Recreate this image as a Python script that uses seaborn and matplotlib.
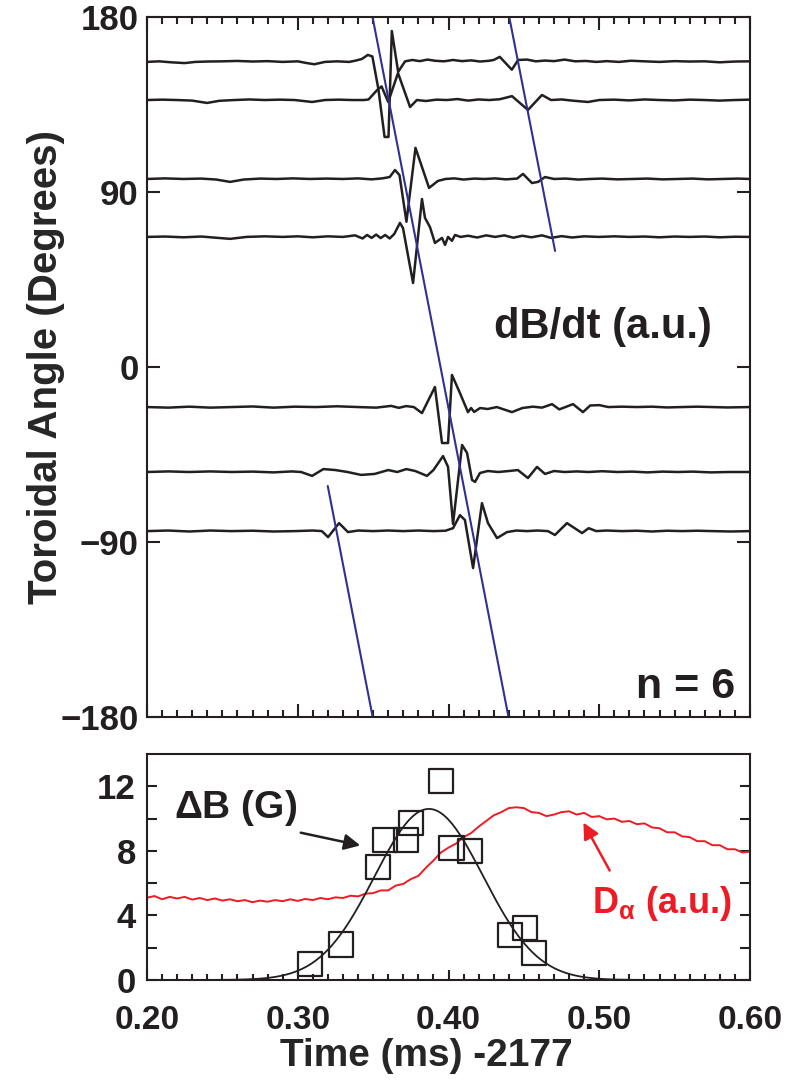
import numpy as np
import pandas as pd
import matplotlib
matplotlib.use("Agg")
import matplotlib.pyplot as plt
from matplotlib.ticker import MultipleLocator
import seaborn as sns

# ---------------------------------------------------------------- data
# toroidal positions of the magnetic probes (degrees)
probe_angle = [156.9, 137.3, 96.7, 66.9, -20.6, -54.0, -84.4]

# dB/dt signals: time (ms, offset from 2177 ms) and trace deflection (degrees)
probe1_t = [0.200, 0.208, 0.216, 0.225, 0.232, 0.240, 0.250, 0.260, 0.270, 0.280,
            0.290, 0.300, 0.306, 0.311, 0.318, 0.326, 0.334, 0.338, 0.3425, 0.3465,
            0.3495, 0.3535, 0.3576, 0.3602, 0.3624, 0.3666, 0.3712, 0.376, 0.381, 0.386,
            0.391, 0.397, 0.403, 0.409, 0.415, 0.421, 0.427, 0.430, 0.4340, 0.4420,
            0.4462, 0.452, 0.458, 0.464, 0.470, 0.477, 0.484, 0.491, 0.498, 0.505,
            0.513, 0.521, 0.530, 0.540, 0.550, 0.560, 0.570, 0.580, 0.590, 0.600]
probe1_v = [0.0, 0.3, -0.2, -0.6, 0.0, 0.2, 0.3, 0.5, 0.2, 0.4,
            0.0, 0.3, -0.6, -1.2, 0.0, 0.3, 0.0, 0.6, 1.5, 3.6,
            2.8, -14.0, -38.6, -38.6, 15.9, -5.1, 0.3, 1.0, 0.4, 1.2,
            0.6, 0.3, 1.0, 0.4, 0.8, 0.2, 0.6, 1.0, 2.6, -4.0,
            1.0, 1.2, 0.3, 0.7, 0.4, 1.2, 0.3, 0.5, 0.0, 0.4,
            0.0, 0.6, 0.3, 0.0, 0.4, 0.2, 0.3, -0.2, 0.2, 0.3]

probe2_t = [0.200, 0.210, 0.220, 0.230, 0.2398, 0.248, 0.258, 0.268, 0.278, 0.288,
            0.298, 0.3095, 0.318, 0.327, 0.336, 0.3440, 0.3470, 0.3526, 0.3556, 0.3600,
            0.3665, 0.3745, 0.3790, 0.385, 0.392, 0.399, 0.406, 0.413, 0.420, 0.427,
            0.434, 0.4421, 0.4527, 0.4620, 0.468, 0.475, 0.482, 0.4925, 0.500, 0.510,
            0.520, 0.530, 0.540, 0.550, 0.560, 0.570, 0.580, 0.590, 0.600]
probe2_v = [0.0, 0.2, 0.0, -0.3, -1.5, -0.4, 0.0, 0.3, 0.0, 0.2,
            0.0, -1.0, 0.0, 0.2, 0.0, 0.0, 0.3, 5.1, 7.0, -1.0,
            13.9, -3.6, 0.0, -0.5, 0.2, 0.0, 0.5, -0.3, 0.3, 0.0,
            0.4, 2.0, -5.1, 2.6, 0.0, 0.3, -0.3, -1.0, 0.0, 0.2,
            -0.2, 0.3, 0.0, -0.2, 0.2, 0.0, -0.3, 0.0, 0.2]

probe3_t = [0.200, 0.212, 0.224, 0.236, 0.246, 0.2551, 0.264, 0.275, 0.286, 0.297,
            0.308, 0.319, 0.330, 0.340, 0.349, 0.356, 0.3610, 0.3645, 0.3675, 0.3721,
            0.3781, 0.3871, 0.3930, 0.398, 0.404, 0.410, 0.417, 0.424, 0.431, 0.438,
            0.4455, 0.4494, 0.4554, 0.4594, 0.4640, 0.470, 0.478, 0.486, 0.494, 0.502,
            0.512, 0.522, 0.532, 0.542, 0.552, 0.562, 0.572, 0.582, 0.592, 0.600]
probe3_v = [0.0, 0.3, 0.0, 0.2, -0.3, -1.5, -0.3, 0.2, 0.0, 0.3,
            0.0, 0.2, 0.0, 0.3, -0.2, 0.3, 1.0, 4.6, 2.0, -22.0,
            16.0, -4.6, -1.0, 0.0, 0.3, -0.3, 0.2, 0.0, 0.3, -0.2,
            0.2, 2.6, -2.1, -1.5, 1.0, 0.0, 0.2, -0.3, 0.0, 0.2,
            -0.2, 0.0, 0.2, -0.2, 0.0, 0.2, -0.2, 0.0, 0.2, 0.0]

probe4_t = [0.200, 0.212, 0.224, 0.236, 0.2551, 0.266, 0.278, 0.290, 0.300, 0.310,
            0.320, 0.330, 0.338, 0.343, 0.346, 0.349, 0.352, 0.355, 0.358, 0.361,
            0.364, 0.3678, 0.3698, 0.3765, 0.3824, 0.3844, 0.3877, 0.3910, 0.3957, 0.3977,
            0.3997, 0.4023, 0.4043, 0.408, 0.413, 0.419, 0.425, 0.431, 0.437, 0.443,
            0.449, 0.455, 0.462, 0.468, 0.475, 0.482, 0.490, 0.500, 0.510, 0.520,
            0.530, 0.540, 0.550, 0.560, 0.570, 0.580, 0.590, 0.600]
probe4_v = [0.0, 0.2, -0.2, 0.2, -1.0, 0.0, 0.3, 0.0, 0.3, -0.2,
            0.3, 0.0, 0.8, -0.8, 1.0, -0.5, 1.2, -0.6, 1.0, -0.8,
            1.5, 7.2, 4.6, -23.7, 19.5, 9.8, 5.1, -3.1, -0.5, -4.1,
            0.0, -2.0, 1.0, 0.0, 0.6, -0.3, 0.8, 0.0, 0.8, -0.4,
            0.6, -0.2, 0.8, -0.5, 0.4, -0.3, 0.3, 0.0, 0.3, 0.0,
            0.2, -0.2, 0.2, 0.0, 0.2, -0.2, 0.1, 0.0]

probe5_t = [0.200, 0.214, 0.228, 0.242, 0.256, 0.270, 0.284, 0.298, 0.312, 0.326,
            0.340, 0.352, 0.362, 0.367, 0.372, 0.377, 0.3824, 0.3910, 0.3957, 0.3997,
            0.4023, 0.4076, 0.4129, 0.4150, 0.4170, 0.421, 0.426, 0.432, 0.4421, 0.449,
            0.456, 0.462, 0.4687, 0.4735, 0.4826, 0.4892, 0.494, 0.500, 0.506, 0.515,
            0.525, 0.535, 0.545, 0.555, 0.565, 0.575, 0.585, 0.600]
probe5_v = [0.0, -0.3, 0.2, -0.3, 0.0, 0.3, -0.3, 0.2, 0.0, 0.4,
            0.0, -0.3, 0.6, -0.4, 0.5, 0.0, -3.1, 10.3, -18.5, -18.5,
            16.5, 7.2, -2.6, -0.5, -2.5, -0.5, -1.0, 0.0, -2.6, -0.5,
            0.2, -0.3, 1.5, -1.2, 1.5, -2.6, 0.8, 1.0, 0.0, 0.2,
            0.0, 0.2, -0.2, 0.0, 0.2, 0.0, -0.2, 0.0]

probe6_t = [0.200, 0.214, 0.228, 0.242, 0.256, 0.270, 0.284, 0.296, 0.3022, 0.3095,
            0.3170, 0.3250, 0.333, 0.342, 0.351, 0.360, 0.366, 0.372, 0.378, 0.3857,
            0.3900, 0.3964, 0.3997, 0.4030, 0.4090, 0.4123, 0.4156, 0.4176, 0.4209, 0.426,
            0.433, 0.440, 0.446, 0.4527, 0.4587, 0.4640, 0.470, 0.477, 0.485, 0.493,
            0.502, 0.512, 0.522, 0.532, 0.542, 0.552, 0.562, 0.574, 0.586, 0.600]
probe6_v = [0.0, 0.3, 0.0, 0.3, 0.0, 0.2, -0.2, 0.3, 0.0, -2.0,
            1.5, 1.0, 0.0, -1.5, -1.0, 1.0, 0.0, 1.5, 0.5, -2.0,
            1.0, 8.2, 2.6, -26.7, 13.9, 9.8, -4.1, -5.1, -0.5, 0.5,
            0.0, 0.5, 1.0, -3.1, 2.6, -1.0, 0.5, 0.0, 0.3, 0.0,
            0.4, 0.0, 0.2, -0.2, 0.2, 0.0, 0.2, -0.2, 0.0, 0.0]

probe7_t = [0.200, 0.214, 0.228, 0.242, 0.256, 0.270, 0.284, 0.298, 0.310, 0.3160,
            0.3201, 0.3274, 0.3333, 0.340, 0.350, 0.360, 0.370, 0.380, 0.390, 0.398,
            0.4030, 0.4076, 0.4109, 0.4163, 0.4222, 0.4262, 0.4322, 0.4388, 0.445, 0.452,
            0.459, 0.4660, 0.4706, 0.4786, 0.4886, 0.4930, 0.498, 0.505, 0.515, 0.525,
            0.535, 0.545, 0.555, 0.565, 0.575, 0.587, 0.600]
probe7_v = [0.0, 0.3, -0.2, 0.3, 0.0, 0.2, -0.2, 0.0, 0.3, 0.0,
            -3.1, 4.1, -0.5, 0.3, 0.0, 0.3, 0.0, 0.3, 0.0, 0.2,
            1.5, 8.2, 5.7, -19.0, 14.4, 4.1, -3.6, -0.5, 0.3, 0.0,
            0.3, 0.0, -2.0, 4.1, -1.0, 1.5, 0.0, 0.3, 0.0, 0.2,
            -0.2, 0.2, 0.0, 0.2, 0.0, -0.2, 0.0]

# propagation fronts of the mode (time, toroidal angle end points)
front_t = [[0.3496, 0.4398], [0.4403, 0.4707], [0.3199, 0.3497]]
front_deg = [[180.0, -180.0], [180.0, 59.7], [-61.2, -180.0]]

# perturbation amplitude Delta B (G)
dB_t = [0.308, 0.329, 0.353, 0.358, 0.372, 0.375, 0.395, 0.402, 0.414, 0.441, 0.451, 0.457]
dB_G = [1.0, 2.2, 7.0, 8.7, 8.7, 9.7, 12.3, 8.2, 8.0, 2.8, 3.2, 1.7]

# D-alpha emission (a.u.)
da_t = [0.200, 0.205, 0.210, 0.215, 0.220, 0.225, 0.230, 0.235, 0.240, 0.245,
        0.250, 0.255, 0.260, 0.265, 0.270, 0.275, 0.280, 0.285, 0.290, 0.295,
        0.300, 0.305, 0.310, 0.315, 0.320, 0.325, 0.330, 0.335, 0.340, 0.345,
        0.350, 0.355, 0.360, 0.365, 0.370, 0.375, 0.380, 0.385, 0.390, 0.395,
        0.400, 0.405, 0.410, 0.415, 0.420, 0.425, 0.430, 0.435, 0.440, 0.445,
        0.450, 0.455, 0.460, 0.465, 0.470, 0.475, 0.480, 0.485, 0.490, 0.495,
        0.500, 0.505, 0.510, 0.515, 0.520, 0.525, 0.530, 0.535, 0.540, 0.545,
        0.550, 0.555, 0.560, 0.565, 0.570, 0.575, 0.580, 0.585, 0.590, 0.595, 0.600]
da_v = [5.10, 5.20, 5.00, 5.15, 5.05, 5.15, 4.98, 5.08, 4.95, 5.05,
        4.92, 5.00, 4.88, 4.95, 4.82, 4.92, 4.85, 4.95, 4.88, 5.00,
        4.90, 5.02, 4.95, 5.08, 5.00, 5.12, 5.08, 5.22, 5.18, 5.35,
        5.38, 5.55, 5.55, 5.85, 5.95, 6.25, 6.45, 6.95, 7.40, 7.90,
        8.20, 8.45, 8.85, 9.10, 9.50, 9.85, 10.20, 10.40, 10.65, 10.70,
        10.65, 10.40, 10.35, 10.15, 10.25, 10.40, 10.45, 10.25, 10.35, 10.10,
        10.15, 9.95, 10.00, 9.80, 9.85, 9.65, 9.70, 9.45, 9.40, 9.15,
        9.15, 8.90, 8.85, 8.60, 8.60, 8.35, 8.35, 8.10, 8.10, 7.90, 7.95]

x_ticks = [0.20, 0.30, 0.40, 0.50, 0.60]
x_ticklabels = ["0.20", "0.30", "0.40", "0.50", "0.60"]
angle_ticks = [-180, -90, 0, 90, 180]
dB_ticks = [0, 2, 4, 6, 8, 10, 12]
dB_ticklabels = ["0", "", "4", "", "8", "", "12"]

# ---------------------------------------------------------------- style
INK = "#231f20"
RED = "#ed1c24"
BLUE = "#2e3192"

sns.set_style("ticks")
plt.rcParams["font.family"] = ["Liberation Sans", "DejaVu Sans"]
plt.rcParams.update({
    "font.weight": "bold",
    "axes.edgecolor": INK,
    "axes.linewidth": 1.5,
    "xtick.color": INK,
    "ytick.color": INK,
    "text.color": INK,
    "mathtext.fontset": "custom",
    "mathtext.rm": "Liberation Sans",
    "mathtext.it": "Liberation Sans",
    "mathtext.bf": "Liberation Sans:bold",
})

fig = plt.figure(figsize=(7.93, 10.81), dpi=100)
W, H = 793.0, 1081.0
ax1 = fig.add_axes([147 / W, 1 - 717 / H, 603 / W, 700 / H])
ax2 = fig.add_axes([147 / W, 1 - 980 / H, 603 / W, 226 / H])

# ---------------------------------------------------------------- top panel
traces = [(probe1_t, probe1_v), (probe2_t, probe2_v), (probe3_t, probe3_v),
          (probe4_t, probe4_v), (probe5_t, probe5_v), (probe6_t, probe6_v),
          (probe7_t, probe7_v)]
rows = []
for k, (ang, (tt, vv)) in enumerate(zip(probe_angle, traces)):
    for t, v in zip(tt, vv):
        rows.append({"probe": k, "t": t, "angle": ang + v})
df_probe = pd.DataFrame(rows)

sns.lineplot(data=df_probe, x="t", y="angle", units="probe", estimator=None,
             sort=False, color=INK, lw=1.8, ax=ax1)

rows = []
for k, (tt, dd) in enumerate(zip(front_t, front_deg)):
    for t, d in zip(tt, dd):
        rows.append({"front": k, "t": t, "angle": d})
df_front = pd.DataFrame(rows)
sns.lineplot(data=df_front, x="t", y="angle", units="front", estimator=None,
             sort=False, color=BLUE, lw=1.5, ax=ax1)

ax1.set_xlim(0.2, 0.6)
ax1.set_ylim(-180, 180)
ax1.set_xticks(x_ticks)
ax1.set_xticklabels([])
ax1.xaxis.set_minor_locator(MultipleLocator(0.01))
ax1.set_yticks(angle_ticks)
ax1.tick_params(axis="both", which="both", direction="in", top=True, right=True,
                width=1.5, labelsize=25, pad=6)
ax1.tick_params(axis="x", which="major", length=9.5)
ax1.tick_params(axis="x", which="minor", length=5)
ax1.tick_params(axis="y", which="major", length=9.5)
ax1.set_xlabel("")
ax1.set_ylabel("Toroidal Angle (Degrees)", fontsize=29, fontweight="bold")
ax1.yaxis.set_label_coords(-0.168, 0.5)
ax1.yaxis.label.set_va("center")

ax1.text(0.5025, 20.6, "dB/dt (a.u.)", fontsize=30, fontweight="bold",
         ha="center", va="center")
ax1.text(0.557, -164.6, "n = 6", fontsize=31, fontweight="bold",
         ha="center", va="center")

# ---------------------------------------------------------------- bottom panel
df_da = pd.DataFrame({"t": da_t, "v": da_v})
sns.lineplot(data=df_da, x="t", y="v", color=RED, lw=1.4, estimator=None,
             sort=False, ax=ax2)

df_dB = pd.DataFrame({"t": dB_t, "G": dB_G})

# Gaussian fit of the Delta B amplitudes
tt = np.asarray(dB_t)
yy = np.asarray(dB_G)
best = None
for mu in np.arange(0.36, 0.42, 0.0005):
    for sig in np.arange(0.02, 0.05, 0.0005):
        g = np.exp(-0.5 * ((tt - mu) / sig) ** 2)
        amp = (g @ yy) / (g @ g)
        sse = np.sum((yy - amp * g) ** 2)
        if best is None or sse < best[0]:
            best = (sse, amp, mu, sig)
_, amp, mu, sig = best
fit_t = np.linspace(0.2, 0.6, 500)
df_fit = pd.DataFrame({"t": fit_t, "G": amp * np.exp(-0.5 * ((fit_t - mu) / sig) ** 2)})
sns.lineplot(data=df_fit, x="t", y="G", color=INK, lw=1.3, ax=ax2)

sns.scatterplot(data=df_dB, x="t", y="G", marker="s", s=300, facecolor="none",
                edgecolor=INK, linewidth=1.6, ax=ax2, zorder=5)

ax2.set_xlim(0.2, 0.6)
ax2.set_ylim(0, 14)
ax2.set_xticks(x_ticks)
ax2.set_xticklabels(x_ticklabels)
ax2.xaxis.set_minor_locator(MultipleLocator(0.01))
ax2.set_yticks(dB_ticks)
ax2.set_yticklabels(dB_ticklabels)
ax2.tick_params(axis="both", which="both", direction="in", top=False, right=True,
                width=1.5, labelsize=25)
ax2.tick_params(axis="x", which="major", length=7, pad=18, labelsize=24)
ax2.tick_params(axis="x", which="minor", length=4.5)
ax2.tick_params(axis="y", which="major", length=7, pad=8)
ax2.set_ylabel("")
ax2.set_xlabel("Time (ms) -2177", fontsize=28, fontweight="bold")
ax2.xaxis.set_label_coords(0.463, -0.335)
ax2.xaxis.label.set_va("center")

ax2.text(0.259, 10.65, r"$\Delta$B (G)", fontsize=28, fontweight="bold",
         ha="center", va="center")
ax2.annotate("", xy=(0.3433, 8.3), xytext=(0.3002, 9.16),
             arrowprops=dict(arrowstyle="-|>", color=INK, lw=1.8, mutation_scale=24))
ax2.text(0.4952, 4.15, r"D$_{\alpha}$ (a.u.)", fontsize=26, fontweight="bold",
         color=RED, ha="left", va="baseline")
ax2.annotate("", xy=(0.4886, 9.9), xytext=(0.5078, 6.63),
             arrowprops=dict(arrowstyle="-|>", color=RED, lw=1.8, mutation_scale=24))

for a in (ax1, ax2):
    for s in a.spines.values():
        s.set_visible(True)
        s.set_linewidth(1.5)

fig.savefig("out.png", dpi=100)
